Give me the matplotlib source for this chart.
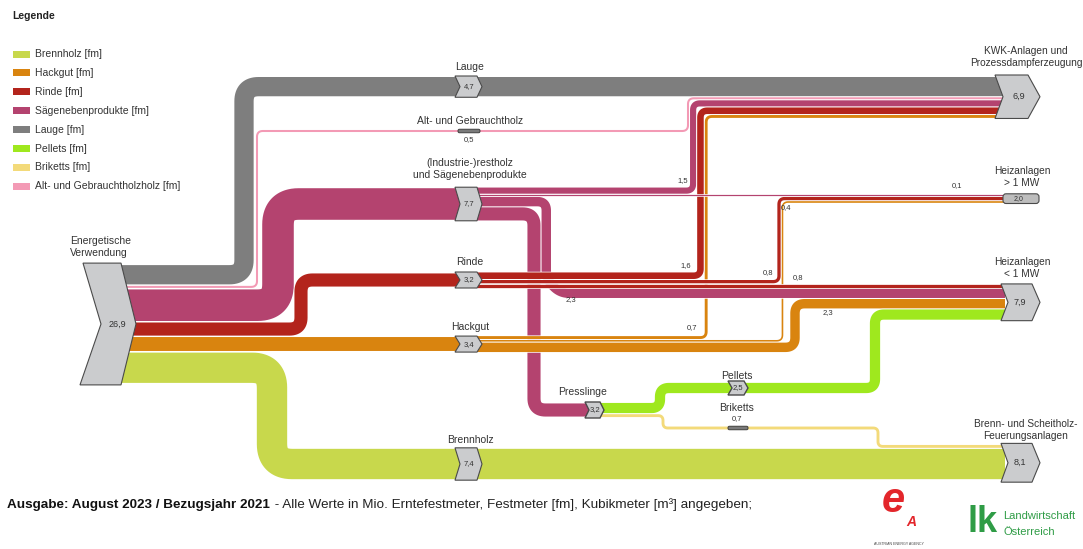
import numpy as np
import matplotlib.pyplot as plt
from matplotlib.patches import Polygon, Rectangle, FancyBboxPatch

# Werte in Mio. fm
source_label = "Energetische\nVerwendung"
source_value = 26.9

carrier_names = ["Lauge", "Alt- und Gebrauchtholz", "(Industrie-)restholz\nund Sägenebenprodukte",
                 "Rinde", "Hackgut", "Brennholz"]
carrier_values = [4.7, 0.5, 7.7, 3.2, 3.4, 7.4]

saege_split = [1.5, 0.1, 2.3, 3.2]      # KWK, >1 MW, <1 MW, Presslinge
rinde_split = [1.6, 0.8, 0.8]           # KWK, >1 MW, <1 MW
hackgut_split = [0.7, 0.4, 2.3]         # KWK, >1 MW, <1 MW
presslinge_split = [2.5, 0.7]           # Pellets, Briketts

sink_names = ["KWK-Anlagen und\nProzessdampferzeugung", "Heizanlagen\n> 1 MW",
              "Heizanlagen\n< 1 MW", "Brenn- und Scheitholz-\nFeuerungsanlagen"]
sink_values = [6.9, 2.0, 7.9, 8.1]

flow_labels = ["1,5", "0,1", "0,4", "1,6", "0,8", "0,8", "2,3", "2,3", "0,7"]

legend_names = ["Brennholz [fm]", "Hackgut [fm]", "Rinde [fm]", "Sägenebenprodukte [fm]",
                "Lauge [fm]", "Pellets [fm]", "Briketts [fm]", "Alt- und Gebrauchtholzholz [fm]"]

colors = {
    "Brennholz": "#c8d84c", "Hackgut": "#d9840f", "Rinde": "#b3241c",
    "Saege": "#b4436f", "Lauge": "#7e7e7e", "Pellets": "#9fe81e",
    "Briketts": "#f3da7a", "Alt": "#f39ab5",
}
legend_colors = [colors[k] for k in ["Brennholz", "Hackgut", "Rinde", "Saege", "Lauge",
                                     "Pellets", "Briketts", "Alt"]]

DPI = 100
S = 4.1      # px je Mio. fm
GAP = 1.0
TXT = "#333333"
plt.rcParams['font.family'] = ['Liberation Sans', 'DejaVu Sans']


def fmt(v):
    return f"{v:.1f}".replace(".", ",")


def wid(v):
    return max(v * S, 1.2)


def stack_from(top, values, gap=GAP):
    out = []
    y = top
    for v in values:
        w = wid(v)
        out.append(y + w / 2)
        y += w + gap
    return out


def stack(center, values, gap=GAP):
    total = sum(wid(v) for v in values) + gap * (len(values) - 1)
    return stack_from(center - total / 2, values, gap)


def rounded(pts, r):
    pts = [np.array(p, float) for p in pts]
    out = [pts[0]]
    for a, b, c in zip(pts[:-2], pts[1:-1], pts[2:]):
        u1 = a - b
        d1 = np.linalg.norm(u1)
        u2 = c - b
        d2 = np.linalg.norm(u2)
        u1 /= d1
        u2 /= d2
        t = min(r, d1 / 2, d2 / 2)
        p1, p2 = b + u1 * t, b + u2 * t
        s = np.linspace(0, 1, 16)[:, None]
        out.extend((1 - s) ** 2 * p1 + 2 * (1 - s) * s * b + s ** 2 * p2)
    out.append(pts[-1])
    return np.array(out)


def band(ax, pts, value, color, r=None, z=2):
    w = wid(value)
    if r is None:
        r = w / 2 + 5
    p = rounded(pts, r)
    lw = w * 72 / DPI
    ax.plot(p[:, 0], p[:, 1], color='white', lw=lw + 1.4 * 72 / DPI,
            solid_capstyle='butt', solid_joinstyle='round', zorder=z)
    ax.plot(p[:, 0], p[:, 1], color=color, lw=lw,
            solid_capstyle='butt', solid_joinstyle='round', zorder=z)


def chevron(ax, x0, y0, x1, y1, notch, tip, z=6, lw=0.8):
    ym = (y0 + y1) / 2
    pts = [(x0, y0), (x1 - tip, y0), (x1, ym), (x1 - tip, y1), (x0, y1), (x0 + notch, ym)]
    ax.add_patch(Polygon(pts, closed=True, fc='#cbccce', ec='#4a4a4a', lw=lw, zorder=z))


def small_bar(ax, xc, yc, w=22, h=3.5):
    ax.add_patch(FancyBboxPatch((xc - w / 2, yc - h / 2), w, h, boxstyle="round,pad=0,rounding_size=1.5",
                                fc='#7a7a7a', ec='#3f3f3f', lw=0.7, zorder=6))


fig = plt.figure(figsize=(10.83, 5.49), dpi=DPI)
ax = fig.add_axes([0, 0, 1, 1])
ax.set_xlim(0, 1083)
ax.set_ylim(549, 0)
ax.axis('off')

# --- Lage der Knoten ---
src_y = stack(324, carrier_values, gap=1.5)
kwk_vals = [carrier_values[0], carrier_values[1], saege_split[0], rinde_split[0], hackgut_split[0]]
kwk_y = stack_from(77, kwk_vals)
kx = stack_from(688 - wid(carrier_values[1]) / 2, [carrier_values[1], saege_split[0],
                                                   rinde_split[0], hackgut_split[0]])
node_x0, node_x1 = 455, 482
alt_y, saege_y, rinde_y = 131, 204, 280
hack_y = src_y[4]
brenn_node_y = 464

sg_y = stack(saege_y, saege_split)
rd_y = stack(rinde_y, rinde_split)
hk_y = stack(hack_y, hackgut_split)
g1_y = stack_from(sg_y[1] - wid(saege_split[1]) / 2, [saege_split[1], rinde_split[1], hackgut_split[1]])
lt_y = stack_from(rd_y[2] - wid(rinde_split[2]) / 2,
                  [rinde_split[2], saege_split[2], hackgut_split[2], presslinge_split[0]])
brenn_y = stack_from(brenn_node_y - wid(carrier_values[5]) / 2 - GAP - wid(presslinge_split[1]),
                     [presslinge_split[1], carrier_values[5]])
sx = stack_from(534 - wid(saege_split[3]) / 2, [saege_split[3], saege_split[2]])
hx = stack_from(779 - wid(rinde_split[1]) / 2, [rinde_split[1], hackgut_split[1]])
press_y = 410
pr_y = stack(press_y, presslinge_split)
pel_y, bri_y = 388, 428
END = 1005
IN_X, OUT_X = node_x0 + 5, node_x1 - 5

# --- Bänder ---
band(ax, [(112, src_y[5]), (272, src_y[5]), (272, brenn_y[1]), (END, brenn_y[1])],
     carrier_values[5], colors["Brennholz"])
band(ax, [(112, src_y[0]), (244, src_y[0]), (244, kwk_y[0]), (END, kwk_y[0])],
     carrier_values[0], colors["Lauge"])
band(ax, [(112, src_y[1]), (257, src_y[1]), (257, alt_y), (kx[0], alt_y), (kx[0], kwk_y[1]),
          (END, kwk_y[1])], carrier_values[1], colors["Alt"], r=6)
band(ax, [(112, src_y[2]), (278, src_y[2]), (278, saege_y), (IN_X, saege_y)],
     carrier_values[2], colors["Saege"])
band(ax, [(112, src_y[3]), (301, src_y[3]), (301, rinde_y), (IN_X, rinde_y)],
     carrier_values[3], colors["Rinde"])
band(ax, [(112, hack_y), (IN_X, hack_y)], carrier_values[4], colors["Hackgut"])

band(ax, [(OUT_X, sg_y[3]), (sx[0], sg_y[3]), (sx[0], press_y), (590, press_y)],
     saege_split[3], colors["Saege"])
band(ax, [(OUT_X, hk_y[0]), (kx[3], hk_y[0]), (kx[3], kwk_y[4]), (END, kwk_y[4])],
     hackgut_split[0], colors["Hackgut"], r=6)
band(ax, [(OUT_X, hk_y[1]), (hx[1], hk_y[1]), (hx[1], g1_y[2]), (END, g1_y[2])],
     hackgut_split[1], colors["Hackgut"], r=6)
band(ax, [(OUT_X, hk_y[2]), (795, hk_y[2]), (795, lt_y[2]), (END, lt_y[2])],
     hackgut_split[2], colors["Hackgut"])
band(ax, [(OUT_X, sg_y[2]), (sx[1], sg_y[2]), (sx[1], lt_y[1] - 14), (sx[1] + 14, lt_y[1]),
          (END, lt_y[1])], saege_split[2], colors["Saege"], r=9)
band(ax, [(OUT_X, sg_y[0]), (kx[1], sg_y[0]), (kx[1], kwk_y[2]), (END, kwk_y[2])],
     saege_split[0], colors["Saege"], r=7)
band(ax, [(OUT_X, rd_y[0]), (kx[2], rd_y[0]), (kx[2], kwk_y[3]), (END, kwk_y[3])],
     rinde_split[0], colors["Rinde"], r=7)
band(ax, [(OUT_X, rd_y[1]), (hx[0], rd_y[1]), (hx[0], g1_y[1]), (END, g1_y[1])],
     rinde_split[1], colors["Rinde"], r=6)
band(ax, [(OUT_X, rd_y[2]), (END, rd_y[2])], rinde_split[2], colors["Rinde"])
band(ax, [(OUT_X, sg_y[1]), (END, sg_y[1])], saege_split[1], colors["Saege"])
band(ax, [(598, pr_y[0]), (660, pr_y[0]), (660, pel_y), (875, pel_y), (875, lt_y[3]), (END, lt_y[3])],
     presslinge_split[0], colors["Pellets"], r=9)
band(ax, [(598, pr_y[1]), (663, pr_y[1]), (663, bri_y), (878, bri_y), (878, brenn_y[0]),
          (END, brenn_y[0])], presslinge_split[1], colors["Briketts"], r=5)

# --- Knoten ---
src_top = src_y[0] - wid(carrier_values[0]) / 2 - 2
src_bot = src_y[-1] + wid(carrier_values[-1]) / 2 + 2
ym = (src_top + src_bot) / 2
ax.add_patch(Polygon([(83, src_top), (121, src_top), (136, ym), (121, src_bot), (80, src_bot), (101, ym)],
                     closed=True, fc='#cbccce', ec='#4a4a4a', lw=0.8, zorder=6))
ax.text(117, ym, fmt(source_value), ha='center', va='center', fontsize=6.5, color=TXT, zorder=7)
ax.text(70, 247, source_label, ha='left', va='center', fontsize=7.5, color=TXT, linespacing=1.15)

node_ys = [kwk_y[0], alt_y, saege_y, rinde_y, hack_y, brenn_node_y]
label_ys = [67, 121, 169, 262, 327, 440]
for name, v, y, ly in zip(carrier_names, carrier_values, node_ys, label_ys):
    ax.text(470, ly, name, ha='center', va='center', fontsize=7.5, color=TXT, linespacing=1.15)
    if v < 1:
        small_bar(ax, 469, y)
        ax.text(469, y + 9, fmt(v), ha='center', va='center', fontsize=5.5, color=TXT)
    else:
        h = max(wid(v), 14) + 2
        chevron(ax, node_x0, y - h / 2, node_x1, y + h / 2, 5, 5)
        ax.text(469, y, fmt(v), ha='center', va='center', fontsize=5.5, color=TXT, zorder=7)

# Presslinge, Pellets, Briketts
chevron(ax, 585, press_y - 8, 604, press_y + 8, 4, 4, lw=1.0)
ax.text(595, press_y, fmt(sum(presslinge_split)), ha='center', va='center', fontsize=5.5, color=TXT, zorder=7)
ax.text(583, 392, "Presslinge", ha='center', va='center', fontsize=7.5, color=TXT)
chevron(ax, 728, pel_y - 7, 748, pel_y + 7, 4, 4, lw=1.0)
ax.text(738, pel_y, fmt(presslinge_split[0]), ha='center', va='center', fontsize=5.5, color=TXT, zorder=7)
ax.text(737, 376, "Pellets", ha='center', va='center', fontsize=7.5, color=TXT)
small_bar(ax, 738, bri_y, w=20)
ax.text(737, 408, "Briketts", ha='center', va='center', fontsize=7.5, color=TXT)
ax.text(737, 419, fmt(presslinge_split[1]), ha='center', va='center', fontsize=5.5, color=TXT)

# Senken
kwk_top, kwk_bot = kwk_y[0] - wid(kwk_vals[0]) / 2 - 2, kwk_y[-1] + 2
chevron(ax, 995, kwk_top, 1040, kwk_bot, 8, 12)
ax.text(1019, (kwk_top + kwk_bot) / 2, fmt(sink_values[0]), ha='center', va='center', fontsize=6.5,
        color=TXT, zorder=7)
ax.add_patch(FancyBboxPatch((1003, g1_y[0] - 1.5), 36, g1_y[-1] - g1_y[0] + 3,
                            boxstyle="round,pad=0,rounding_size=3", fc='#bdbdbd', ec='#4a4a4a',
                            lw=0.8, zorder=6))
ax.text(1019, (g1_y[0] + g1_y[-1]) / 2, fmt(sink_values[1]), ha='center', va='center', fontsize=5,
        color=TXT, zorder=7)
lt_top, lt_bot = lt_y[0] - 2, lt_y[-1] + wid(presslinge_split[0]) / 2 + 1
chevron(ax, 1001, lt_top, 1040, lt_bot, 7, 8)
ax.text(1020, (lt_top + lt_bot) / 2, fmt(sink_values[2]), ha='center', va='center', fontsize=6.5,
        color=TXT, zorder=7)
br_top, br_bot = brenn_y[0] - 3, brenn_y[1] + wid(carrier_values[5]) / 2 + 3
chevron(ax, 1001, br_top, 1040, br_bot, 7, 8)
ax.text(1020, (br_top + br_bot) / 2, fmt(sink_values[3]), ha='center', va='center', fontsize=6.5,
        color=TXT, zorder=7)

sink_label_pos = [(1026, 57), (1022, 177), (1022, 268), (1026, 430)]
for name, (x, y) in zip(sink_names, sink_label_pos):
    ax.text(x, y, name, ha='center', va='center', fontsize=7.3, color=TXT, linespacing=1.15)

# Beschriftung der Teilströme
flow_label_pos = [(683, 181), (957, 186), (786, 208), (686, 266), (768, 273),
                  (798, 278), (571, 300), (828, 313), (692, 328)]
for t, (x, y) in zip(flow_labels, flow_label_pos):
    ax.text(x, y, t, ha='center', va='center', fontsize=5.5, color=TXT, zorder=8)

# Legende
ax.text(12, 16, "Legende", ha='left', va='center', fontsize=7.5, fontweight='bold', color='#222222')
for i, (name, c) in enumerate(zip(legend_names, legend_colors)):
    y = 54 + i * 18.9
    ax.add_patch(Rectangle((13, y - 3.5), 17, 7, fc=c, ec='none'))
    ax.text(35, y, name, ha='left', va='center', fontsize=7.5, color=TXT)

# Fußzeile
t1 = ax.text(7, 505, "Ausgabe: August 2023 / Bezugsjahr 2021", ha='left', va='center',
             fontsize=9.7, fontweight='bold', color='#111111')
fig.canvas.draw()
bb = t1.get_window_extent()
ax.text(bb.x1 + 1, 505, " - Alle Werte in Mio. Erntefestmeter, Festmeter [fm], Kubikmeter [m³] angegeben;",
        ha='left', va='center', fontsize=9.7, color='#222222')

# Logos
ax.text(893, 501, "e", ha='center', va='center', fontsize=30, fontweight='bold', style='italic',
        color='#e3262b')
ax.text(911, 522, "A", ha='center', va='center', fontsize=10, fontweight='bold', style='italic',
        color='#e3262b')
ax.text(899, 544, "AUSTRIAN ENERGY AGENCY", ha='center', va='center', fontsize=2.6, color='#444444')
ax.text(983, 523, "lk", ha='center', va='center', fontsize=26, fontweight='bold', color='#2f9c46')
ax.text(1003, 516, "Landwirtschaft", ha='left', va='center', fontsize=8, color='#2f9c46')
ax.text(1003, 532, "Österreich", ha='left', va='center', fontsize=8, color='#2f9c46')

fig.savefig("out.png", dpi=DPI)
